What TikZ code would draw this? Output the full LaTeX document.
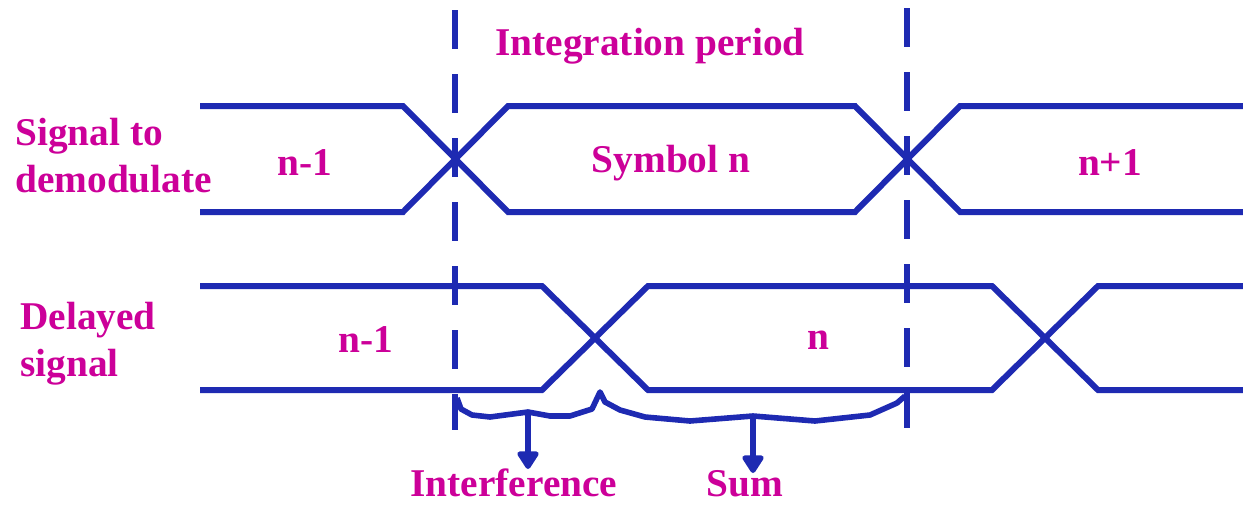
\documentclass[tikz,border=0pt]{standalone}
\usepackage{fontspec}
\setmainfont{Liberation Serif}
\newfontfamily\lblfont{Liberation Serif}
\usetikzlibrary{arrows.meta}
\definecolor{sigblue}{RGB}{30,42,178}
\definecolor{lblmag}{RGB}{204,0,153}
\begin{document}
\begin{tikzpicture}[x=0.75pt,y=-0.75pt,
  wave/.style={draw=sigblue,line width=4.5pt,line join=miter},
  marker/.style={draw=sigblue,line width=4.5pt,dash pattern=on 29pt off 19pt},
  brace/.style={draw=sigblue,line width=4.2pt,line join=round},
  pointer/.style={draw=sigblue,line width=4pt,-{Triangle[width=18pt,length=15pt,round]}},
  lbl/.style={text=lblmag,font=\lblfont\fontsize{29.5}{34}\selectfont\bfseries,inner sep=0pt}]
\useasboundingbox (0,0) rectangle (1243,504);
% signal to demodulate
\draw[wave] (200,106) -- (403,106) -- (508,212) -- (855,212) -- (960,106) -- (1243,106);
\draw[wave] (200,212) -- (403,212) -- (508,106) -- (855,106) -- (960,212) -- (1243,212);
% delayed signal
\draw[wave] (200,286) -- (542,286) -- (648,390) -- (992,390) -- (1098,286) -- (1243,286);
\draw[wave] (200,390) -- (542,390) -- (648,286) -- (992,286) -- (1098,390) -- (1243,390);
% integration period markers
\coordinate (mlt) at (455,10);
\coordinate (mlb) at (455,430);
\coordinate (mrt) at (907,8);
\coordinate (mrb) at (907,428);
\draw[marker] (mlt) -- (mlb);
\draw[marker] (mrt) -- (mrb);
% braces
\coordinate (b1s) at (457,398);
\coordinate (b1m) at (528,412);
\coordinate (tip) at (600,392);
\coordinate (b2m) at (753,416);
\coordinate (b2e) at (905,396);
\draw[brace] (b1s) -- (461,409) -- (472,415) -- (490,417) -- (b1m) -- (550,416) -- (570,416) -- (592,409) -- (tip)
  -- (605,402) -- (620,410) -- (645,417) -- (690,421) -- (b2m) -- (815,421) -- (870,415) -- (897,403) -- (b2e);
% labels
\node[lbl] (title) at (650,46) {Integration period};
\node[lbl,anchor=base west] (sig1) at (15,145) {Signal to};
\node[lbl,anchor=base west] (sig2) at (15,192) {demodulate};
\node[lbl,anchor=base west] (del1) at (20,329) {Delayed};
\node[lbl,anchor=base west] (del2) at (20,376) {signal};
\node[lbl] (a1) at (305,163) {n-1};
\node[lbl] (a2) at (671,163) {Symbol n};
\node[lbl] (a3) at (1110,163) {n+1};
\node[lbl] (d1) at (366,340) {n-1};
\node[lbl] (d2) at (818,340) {n};
\node[lbl,anchor=base] (interf) at (514,496) {Interference};
\node[lbl,anchor=base] (sum) at (745,496) {Sum};
\draw[pointer] (b1m) -- (528,469);
\draw[pointer] (b2m) -- (753,473);
\end{tikzpicture}
\end{document}
